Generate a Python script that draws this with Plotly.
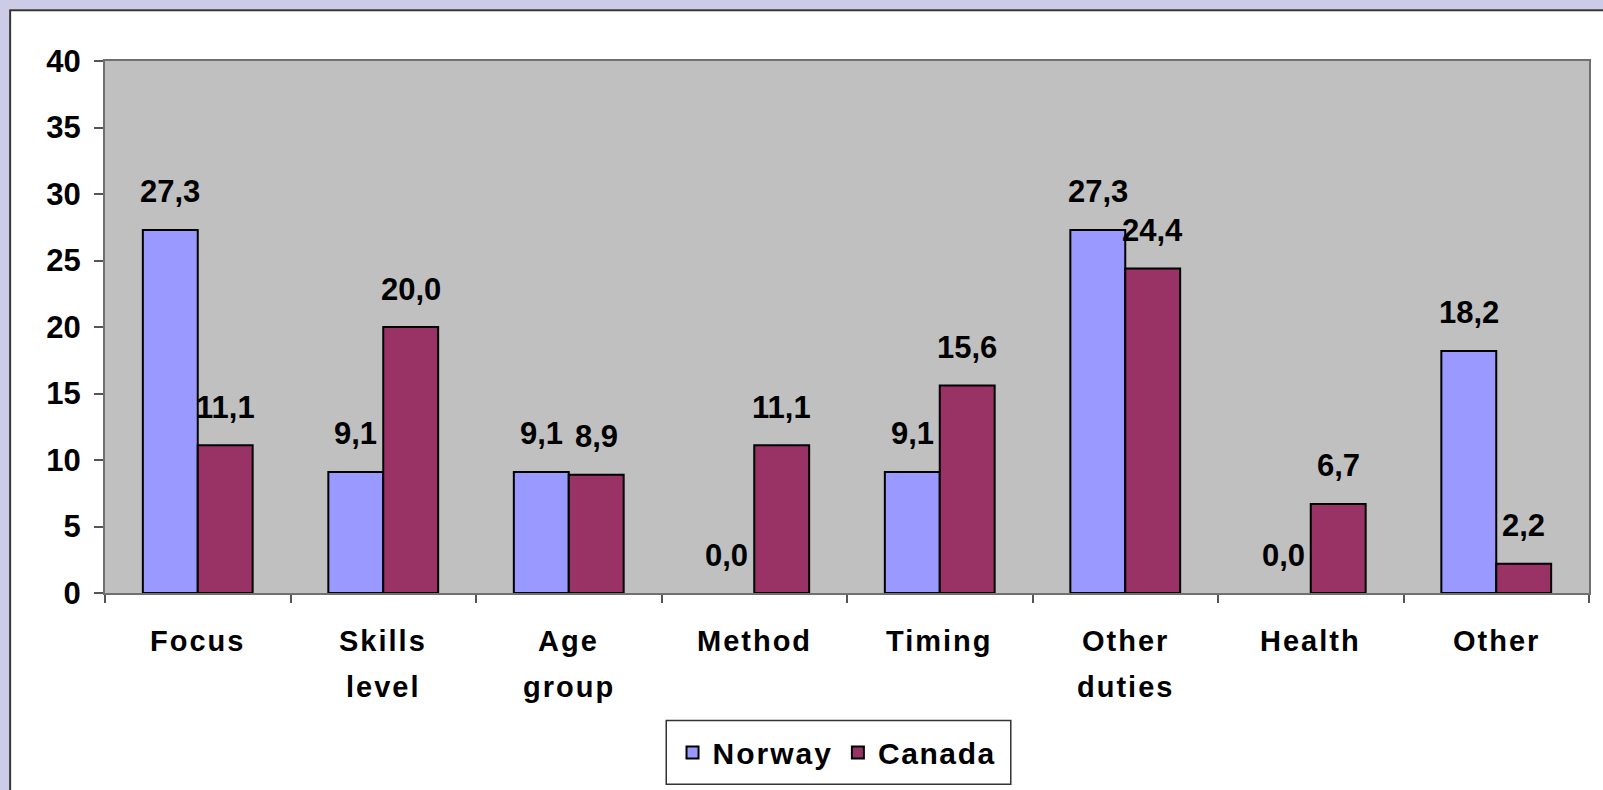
import plotly.graph_objects as go

# Category labels, split into the lines shown under the axis
category_lines = [["Focus"], ["Skills", "level"], ["Age", "group"], ["Method"],
                  ["Timing"], ["Other", "duties"], ["Health"], ["Other"]]
categories = [" ".join(c) for c in category_lines]

norway = [27.3, 9.1, 9.1, 0.0, 9.1, 27.3, 0.0, 18.2]
canada = [11.1, 20.0, 8.9, 11.1, 15.6, 24.4, 6.7, 2.2]

FONT = "Liberation Sans, Arial, sans-serif"

# plot area in pixels: x 105..1591, y 61..595
W, H = 1603, 790
L, R, T, B = 105, 12, 61, 195
pw = W - L - R
ph = H - T - B


def px_x(p):
    return (p - L) / pw


def px_y(p):
    return (H - B - p) / ph


def spaced(s, sp=2):
    return '<span style="letter-spacing:%spx">%s</span>' % (sp, s)


fig = go.Figure()
fig.add_trace(go.Bar(
    x=categories, y=norway, name=spaced("Norway", 2),
    marker=dict(color="#9999FF",
                line=dict(color="black", width=[2 if v else 0 for v in norway]))
))
fig.add_trace(go.Bar(
    x=categories, y=canada, name=spaced("Canada", 1.6),
    marker=dict(color="#993366",
                line=dict(color="black", width=[2 if v else 0 for v in canada]))
))

bargap = 0.408
off = (1 - bargap) / 4

annotations = []
# value labels above each bar
for i in range(len(categories)):
    for v, dx in ((norway[i], -off), (canada[i], off)):
        annotations.append(dict(
            x=i + dx, y=v, xref="x", yref="y",
            text=("%.1f" % v).replace(".", ","),
            showarrow=False, yanchor="middle", yshift=38,
            font=dict(family=FONT, size=31, color="black", weight="bold")
        ))
# category labels under the axis
for i, lines in enumerate(category_lines):
    for k, line in enumerate(lines):
        annotations.append(dict(
            x=i, y=0, xref="x", yref="paper",
            text=spaced(line), showarrow=False, yanchor="middle",
            yshift=-47.5 - 46 * k,
            font=dict(family=FONT, size=29, color="black", weight="bold")
        ))

shapes = [
    # lavender frame at the left and top
    dict(type="rect", xref="paper", yref="paper", x0=-1, x1=px_x(9),
         y0=-1, y1=2, fillcolor="#CCCCE6", line=dict(width=0)),
    dict(type="rect", xref="paper", yref="paper", x0=-1, x1=2,
         y0=px_y(9), y1=2, fillcolor="#CCCCE6", line=dict(width=0)),
    # dark border of the chart area
    dict(type="rect", xref="paper", yref="paper", x0=px_x(10), x1=2,
         y0=-1, y1=px_y(10), fillcolor="rgba(0,0,0,0)",
         line=dict(color="#333333", width=2)),
    # legend box
    dict(type="rect", xref="paper", yref="paper", x0=px_x(667), x1=px_x(1012),
         y0=px_y(787), y1=px_y(723), fillcolor="white",
         line=dict(color="#333333", width=1.5)),
]

fig.update_layout(
    width=W, height=H,
    margin=dict(l=L, r=R, t=T, b=B),
    paper_bgcolor="white",
    plot_bgcolor="#C0C0C0",
    barmode="group",
    bargap=bargap,
    bargroupgap=0,
    showlegend=True,
    legend=dict(
        orientation="h", x=px_x(838), xanchor="center",
        y=px_y(755), yanchor="middle",
        bgcolor="rgba(0,0,0,0)", borderwidth=0,
        font=dict(family=FONT, size=30, color="black", weight="bold")
    ),
    annotations=annotations,
    shapes=shapes,
)

fig.update_xaxes(
    type="category", tickson="boundaries", ticks="outside", ticklen=8,
    tickcolor="#555555", tickwidth=1.5, showticklabels=False,
    showline=True, linecolor="#707070", linewidth=2, mirror=True,
    showgrid=False, zeroline=False, range=[-0.5, 7.5]
)
fig.update_yaxes(
    range=[0, 40], dtick=5, ticks="outside", ticklen=9,
    tickcolor="#555555", tickwidth=1.5,
    showline=True, linecolor="#707070", linewidth=2, mirror=True,
    showgrid=False, zeroline=False, ticklabelstandoff=7,
    tickfont=dict(family=FONT, size=31, color="black", weight="bold")
)

# drop the default page margin so the figure sits at the window corner
fig.write_html("out.html", config={"displayModeBar": False},
               post_script="document.body.style.margin='0px';")
